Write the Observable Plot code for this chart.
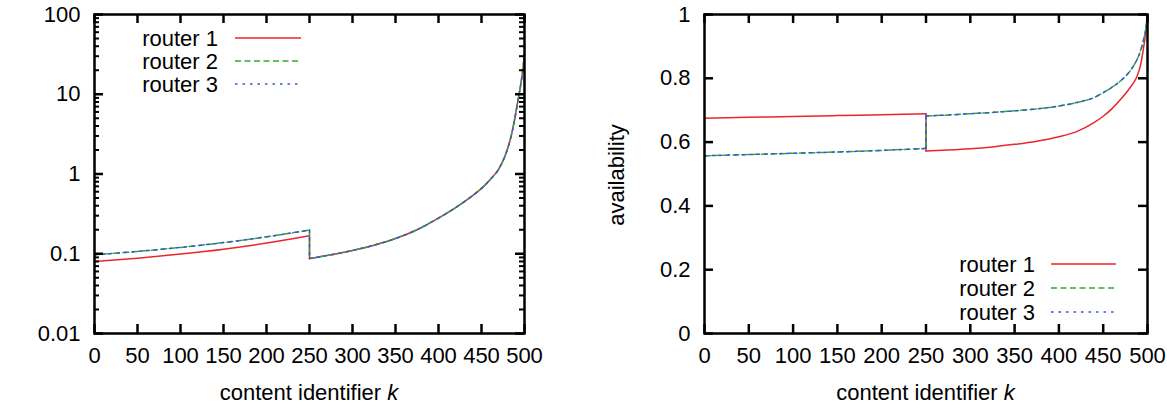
<!DOCTYPE html>
<html>
<head>
<meta charset="utf-8">
<script src="https://cdn.jsdelivr.net/npm/d3@7"></script>
<script src="https://cdn.jsdelivr.net/npm/@observablehq/plot@0.6"></script>
<style>
  body { margin: 0; background: #fff; }
  #wrap { position: relative; width: 1167px; height: 408px; overflow: hidden; }
  .panel { position: absolute; top: 0; }
</style>
</head>
<body>
<div id="wrap">
  <div id="left" class="panel" style="left:0px;width:560px"></div>
  <div id="right" class="panel" style="left:560px;width:607px"></div>
</div>
<script>
// ---- data ----
// k = 250 appears twice: the curves jump there.
const contentIds = [0, 50, 100, 150, 200, 250, 250, 275, 300, 325, 350, 375, 400, 420, 440, 450, 460, 470, 478, 484, 488, 492, 495, 498, 500];

// left panel (log scale)
const costRouter1 = [0.080, 0.088, 0.099, 0.114, 0.136, 0.168, 0.087, 0.097, 0.110, 0.128, 0.155, 0.200, 0.280, 0.380, 0.540, 0.660, 0.850, 1.15, 1.75, 2.85, 4.5, 7.9, 12, 20, 32];
const costRouter2 = [0.097, 0.107, 0.120, 0.138, 0.163, 0.198, 0.087, 0.097, 0.110, 0.128, 0.155, 0.200, 0.280, 0.380, 0.540, 0.660, 0.850, 1.15, 1.75, 2.85, 4.5, 7.9, 12, 20, 32];
const costRouter3 = [0.097, 0.107, 0.120, 0.138, 0.163, 0.198, 0.087, 0.097, 0.110, 0.128, 0.155, 0.200, 0.280, 0.380, 0.540, 0.660, 0.850, 1.15, 1.75, 2.85, 4.5, 7.9, 12, 20, 32];

// right panel (availability)
const availRouter1 = [0.675, 0.678, 0.680, 0.683, 0.686, 0.689, 0.572, 0.575, 0.579, 0.585, 0.593, 0.603, 0.617, 0.633, 0.662, 0.681, 0.705, 0.735, 0.762, 0.785, 0.805, 0.840, 0.885, 0.945, 1.0];
const availRouter2 = [0.557, 0.561, 0.565, 0.569, 0.574, 0.580, 0.682, 0.685, 0.689, 0.693, 0.698, 0.704, 0.713, 0.724, 0.740, 0.755, 0.772, 0.793, 0.815, 0.838, 0.858, 0.885, 0.915, 0.955, 1.0];
const availRouter3 = [0.557, 0.561, 0.565, 0.569, 0.574, 0.580, 0.682, 0.685, 0.689, 0.693, 0.698, 0.704, 0.713, 0.724, 0.740, 0.755, 0.772, 0.793, 0.815, 0.838, 0.858, 0.885, 0.915, 0.955, 1.0];

const seriesNames = ["router 1", "router 2", "router 3"];
const xTicks = [0, 50, 100, 150, 200, 250, 300, 350, 400, 450, 500];
const yTicksLog = [0.01, 0.1, 1, 10, 100];
const yTickLabelsLog = ["0.01", "0.1", "1", "10", "100"];
const yTicksLin = [0, 0.2, 0.4, 0.6, 0.8, 1];
const yTickLabelsLin = ["0", "0.2", "0.4", "0.6", "0.8", "1"];
const xLabel = "content identifier ";
const xLabelItalic = "k";
const yLabelRight = "availability";

// ---- styling ----
const colors = ["#e8262b", "#2faa2f", "#3a55e0"];
const dashes = [null, "6,3.5", "2.5,5"];
const FONT = "'Liberation Sans', Arial, sans-serif";
const FS = 22;
const MT = 14, MB = 75;
const FRAME_H = 408 - MT - MB;

function rows(values, name) {
  return contentIds.flatMap((k, i) => {
    const out = [];
    if (i <= 5) out.push({k, v: values[i], series: name, seg: "a"});
    if (i >= 6) out.push({k, v: values[i], series: name, seg: "b"});
    if (i === 5 || i === 6) out.push({k, v: values[i], series: name, seg: "c"});
    return out;
  });
}
const costData = [costRouter1, costRouter2, costRouter3].map((v, i) => rows(v, seriesNames[i]));
const availData = [availRouter1, availRouter2, availRouter3].map((v, i) => rows(v, seriesNames[i]));

const minorLog = [];
for (let e = -2; e < 2; e++) for (let m = 2; m <= 9; m++) minorLog.push(m * Math.pow(10, e));

function lines(data) {
  return data.flatMap((d, i) => {
    const common = {x: "k", y: "v", stroke: colors[i], strokeWidth: 1.5};
    if (dashes[i]) common.strokeDasharray = dashes[i];
    return [
      Plot.line(d.filter(r => r.seg !== "c"), {...common, z: "seg", curve: "monotone-x"}),
      Plot.line(d.filter(r => r.seg === "c"), {...common, curve: "linear"})
    ];
  });
}

function ticksAndAxes(yTicks, yLabels, minor, frameW) {
  const lab = (d) => yLabels[yTicks.findIndex(t => Math.abs(t - d) < 1e-9)];
  const tk = {stroke: "#000", strokeWidth: 2.5};
  const marks = [
    Plot.frame({stroke: "black", strokeWidth: 2.5}),
    Plot.tickX(xTicks, {x: d => d, insetTop: FRAME_H - 9, ...tk}),
    Plot.tickX(xTicks, {x: d => d, insetBottom: FRAME_H - 9, ...tk}),
    Plot.tickY(yTicks, {y: d => d, insetRight: frameW - 9, ...tk}),
    Plot.tickY(yTicks, {y: d => d, insetLeft: frameW - 9, ...tk}),
  ];
  if (minor) {
    marks.push(Plot.tickY(minor, {y: d => d, insetRight: frameW - 5, stroke: "#000", strokeWidth: 2}));
    marks.push(Plot.tickY(minor, {y: d => d, insetLeft: frameW - 5, stroke: "#000", strokeWidth: 2}));
  }
  marks.push(
    Plot.axisX(xTicks, {anchor: "bottom", tickSize: 0, tickPadding: 14, label: null, tickFormat: d => String(d)}),
    Plot.axisY(yTicks, {anchor: "left", tickSize: 0, tickPadding: 14, label: null, tickFormat: lab})
  );
  return marks;
}

const left = Plot.plot({
  width: 560, height: 408,
  marginLeft: 94, marginRight: 36, marginTop: MT, marginBottom: MB,
  style: {fontFamily: FONT, fontSize: FS + "px", color: "#000", background: "white"},
  x: {domain: [0, 500]},
  y: {type: "log", domain: [0.01, 100]},
  marks: [...lines(costData), ...ticksAndAxes(yTicksLog, yTickLabelsLog, minorLog, 560 - 94 - 36)]
});
document.getElementById("left").appendChild(left);

const right = Plot.plot({
  width: 607, height: 408,
  marginLeft: 144, marginRight: 20, marginTop: MT, marginBottom: MB,
  style: {fontFamily: FONT, fontSize: FS + "px", color: "#000", background: "white"},
  x: {domain: [0, 500]},
  y: {domain: [0, 1]},
  marks: [...lines(availData), ...ticksAndAxes(yTicksLin, yTickLabelsLin, null, 607 - 144 - 20)]
});
document.getElementById("right").appendChild(right);

function addXLabel(svg, cx) {
  const t = d3.select(svg).append("text")
    .attr("x", cx).attr("y", 400).attr("text-anchor", "middle")
    .attr("font-family", FONT).attr("font-size", FS).attr("fill", "#000");
  t.append("tspan").text(xLabel);
  t.append("tspan").attr("font-style", "italic").text(xLabelItalic);
}
addXLabel(left, 309);
addXLabel(right, 925.5 - 560);

d3.select(right).append("text")
  .attr("transform", "translate(64,175) rotate(-90)")
  .attr("text-anchor", "middle")
  .attr("font-family", FONT).attr("font-size", FS).attr("fill", "#000")
  .text(yLabelRight);

function addLegend(svg, textRight, lineX1, lineX2, rowYs) {
  const g = d3.select(svg).append("g");
  seriesNames.forEach((name, i) => {
    g.append("text").attr("x", textRight).attr("y", rowYs[i]).attr("dy", "0.35em")
      .attr("text-anchor", "end").attr("font-family", FONT).attr("font-size", FS).attr("fill", "#000")
      .text(name);
    const ln = g.append("line").attr("x1", lineX1).attr("x2", lineX2)
      .attr("y1", rowYs[i]).attr("y2", rowYs[i])
      .attr("stroke", colors[i]).attr("stroke-width", 1.5);
    if (dashes[i]) ln.attr("stroke-dasharray", dashes[i]);
  });
}
addLegend(left, 218, 235, 301, [38, 61, 84]);
addLegend(right, 1035 - 560, 1051 - 560, 1116 - 560, [264, 288, 312]);
</script>
</body>
</html>
